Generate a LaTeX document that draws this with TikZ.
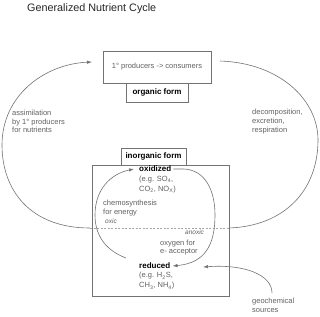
\documentclass[tikz,border=0pt]{standalone}
\usepackage{fontspec}
\setmainfont{Liberation Sans}
\usetikzlibrary{arrows.meta}
\definecolor{txt}{gray}{0.38}
\definecolor{ln}{gray}{0.45}
\begin{document}
\begin{tikzpicture}[x=1pt,y=-1pt,
  lbl/.style={font=\fontsize{7.5}{8.6}\selectfont, text=txt, inner sep=0pt, anchor=west, align=left},
  bld/.style={font=\fontsize{8}{9}\selectfont\bfseries, inner sep=0pt},
  boxst/.style={draw=ln, line width=0.6pt, fill=white, inner sep=0pt},
  arc/.style={draw=ln, line width=0.6pt},
  tip/.style={-{Latex[length=5pt,width=3.5pt]}}
]
\useasboundingbox (0,0) rectangle (320,316);
\fill[white] (0,0) rectangle (320,316);

% title
\node[anchor=west, inner sep=0pt, font=\fontsize{10.8}{12}\selectfont, text=black!85] (title) at (27,9) {Generalized Nutrient Cycle};

% boxes
\node[boxst, minimum width=108pt, minimum height=32pt, font=\fontsize{7.5}{8.6}\selectfont, text=txt] (prod) at (157,67) {1° producers -> consumers};
\node[boxst, minimum width=62pt, minimum height=19pt, bld] (org) at (157,92.5) {organic form};
\node[boxst, minimum width=137pt, minimum height=131pt, fill=none] (inorg) at (160.5,230.5) {};
\node[boxst, minimum width=65pt, minimum height=17pt, bld] (inlab) at (153.5,156.5) {inorganic form};

% side labels
\node[lbl] (assim) at (12,121.5) {assimilation\\by 1° producers\\for nutrients};
\node[lbl] (decomp) at (252,121.5) {decomposition,\\excretion,\\respiration};

% inner texts
\node[bld, anchor=west] (oxi) at (139,169) {oxidized};
\node[lbl, font=\fontsize{7.5}{10.5}\selectfont] (oxex) at (139,184.5) {(e.g. SO\textsubscript{4},\\CO\textsubscript{2}, NO\textsubscript{X})};
\node[lbl] (chemo) at (103,208) {chemosynthesis\\for energy};
\node[lbl, font=\fontsize{6.5}{8}\itshape] (oxic) at (105,221) {oxic};
\node[lbl, font=\fontsize{6.5}{8}\itshape] (anoxic) at (185,232) {anoxic};
\node[lbl] (oxy) at (160,247.5) {oxygen for\\e- acceptor};
\node[bld, anchor=west] (red) at (139,266) {reduced};
\node[lbl, font=\fontsize{7.5}{10}\selectfont] (redex) at (139,281) {(e.g. H\textsubscript{2}S,\\CH\textsubscript{3}, NH\textsubscript{4})};
\node[lbl] (geo) at (252,305.5) {geochemical\\sources};

% coordinates
\coordinate (dl) at (90,228);
\coordinate (dr) at (229,228);
\coordinate (assimtip) at (92,62);
\coordinate (decstart) at (220,61);
\coordinate (geotip) at (203,267);
\coordinate (geostart) at (272,293);

% dashed oxic/anoxic line
\draw[gray!70, line width=0.4pt, dash pattern=on 2pt off 1.5pt] (dl) -- (dr);

% big arcs
\draw[arc, tip] (dl) .. controls (30,228) and (2,190) .. (2,145)
  .. controls (2,95) and (45,64) .. (assimtip);
\draw[arc] (decstart) .. controls (280,63) and (318,100) .. (318,140)
  .. controls (318,190) and (285,226) .. (dr);

% inner cycle
\draw[arc, tip] (126,258) .. controls (105,250) and (95,235) .. (95,215)
  .. controls (95,190) and (110,174) .. ([xshift=-5pt]oxi.west);
\draw[arc, tip] ([xshift=2pt]oxi.east) -- (184,169) .. controls (205,170) and (215,190) .. (215,215)
  .. controls (215,245) and (205,263) .. ([xshift=2pt]red.east);

% geochemical arrow
\draw[arc, tip] (geostart) .. controls (272,275) and (245,264) .. (geotip);
\end{tikzpicture}
\end{document}
